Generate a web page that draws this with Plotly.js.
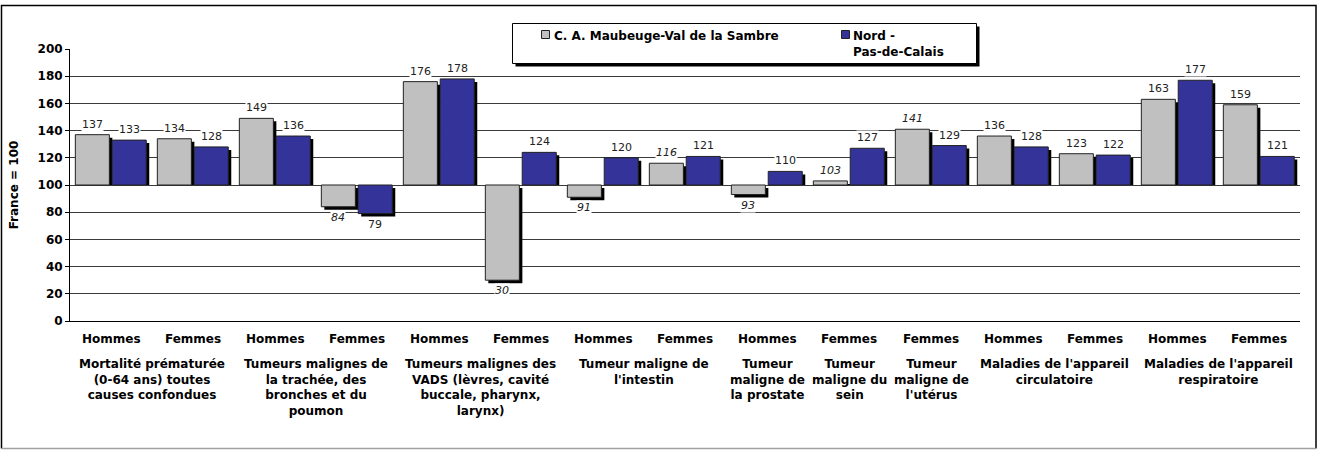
<!DOCTYPE html>
<html>
<head>
<meta charset="utf-8">
<script src="https://cdn.plot.ly/plotly-3.0.1.min.js"></script>
<style>
  html, body { margin: 0; padding: 0; background: #fff; }
  #chart { width: 1319px; height: 450px; }
</style>
</head>
<body>
<div id="chart"></div>
<script>
// ---------- data ----------
const sexes = ['Hommes','Femmes','Hommes','Femmes','Hommes','Femmes','Hommes','Femmes',
               'Hommes','Femmes','Femmes','Hommes','Femmes','Hommes','Femmes'];
const groupLabels = [
  'Mortalité prématurée<br>(0-64 ans) toutes<br>causes confondues',
  'Tumeurs malignes de<br>la trachée, des<br>bronches et du<br>poumon',
  'Tumeurs malignes des<br>VADS (lèvres, cavité<br>buccale, pharynx,<br>larynx)',
  'Tumeur maligne de<br>l\'intestin',
  'Tumeur<br>maligne de<br>la prostate',
  'Tumeur<br>maligne du<br>sein',
  'Tumeur<br>maligne de<br>l\'utérus',
  'Maladies de l\'appareil<br>circulatoire',
  'Maladies de l\'appareil<br>respiratoire'
];
const groupSizes = [2, 2, 2, 2, 1, 1, 1, 2, 2];
const seriesNames = ['C. A. Maubeuge-Val de la Sambre', 'Nord -<br>Pas-de-Calais'];
const maubeuge = [137, 134, 149, 84, 176, 30, 91, 116, 93, 103, 141, 136, 123, 163, 159];
const nordPdc  = [133, 128, 136, 79, 178, 124, 120, 121, 110, 127, 129, 128, 122, 177, 121];
// italic labels (non significant) for the local series
const maubeugeItalic = [false,false,false,true,false,true,true,true,true,true,true,false,false,false,false];
const yTickVals = [0,20,40,60,80,100,120,140,160,180,200];
const baseValue = 100;

// ---------- geometry ----------
const W = 1319, H = 450;
const M = {l: 70, r: 16, t: 49, b: 126};
const PW = W - M.l - M.r, PH = H - M.t - M.b;
const SH = 3; // shadow offset px
const ex = SH / PW, ey = SH / PH;
const pxX = px => (px - M.l) / PW;
const pxY = py => (H - M.b - py) / PH;

const FONT = 'DejaVu Sans, Verdana, sans-serif';
const idx = sexes.map((_, i) => i);
const xRange = [-0.5, sexes.length - 0.5];
const yRange = [0, 200];
const realX = [0, 1 - ex], realY = [ey, 1];
const shadowX = [ex, 1], shadowY = [0, 1 - ey];
const pxPerUnit = PH * (1 - ey) / (yRange[1] - yRange[0]);

const BW = 0.415;
const OFF = [-0.435, 0.015];
const COLORS = ['#C0C0C0', '#333399'];
const series = [maubeuge, nordPdc];

const traces = [];
// shadows (subplot x2y2, shifted 3px right/down; positive bars stop at the base line)
series.forEach((s, k) => {
  const sb = s.map(v => v >= baseValue ? baseValue + SH / pxPerUnit : baseValue);
  traces.push({
    type: 'bar', x: idx, y: s.map((v, i) => v - sb[i]), base: sb,
    offset: OFF[k], width: BW, xaxis: 'x2', yaxis: 'y2',
    marker: {color: '#000000', line: {width: 0}},
    showlegend: false, hoverinfo: 'skip'
  });
});
// real bars (subplot x3y3, on top)
series.forEach((s, k) => {
  traces.push({
    type: 'bar', name: seriesNames[k], x: idx, y: s.map(v => v - baseValue), base: baseValue,
    offset: OFF[k], width: BW, xaxis: 'x3', yaxis: 'y3', showlegend: false,
    marker: {color: COLORS[k], line: {color: '#222222', width: 1}},
    hovertemplate: '%{base}+%{y}<extra></extra>'
  });
});

const annotations = [];
// data labels
series.forEach((s, k) => {
  s.forEach((v, i) => {
    const up = v >= baseValue;
    annotations.push({
      xref: 'x3', yref: 'y3', x: i + OFF[k] + BW / 2, y: v,
      text: String(v), showarrow: false,
      yanchor: up ? 'bottom' : 'top', yshift: up ? 3 : -3,
      bgcolor: '#ffffff', borderpad: 0,
      font: {family: FONT, size: 11, color: '#222222', style: (k === 0 && maubeugeItalic[i]) ? 'italic' : 'normal'}
    });
  });
});
// sex row labels
sexes.forEach((s, i) => {
  annotations.push({
    xref: 'x', yref: 'y', x: i, y: 0, text: s, showarrow: false,
    yanchor: 'middle', yshift: -17.5,
    font: {family: FONT, size: 12, color: '#000', weight: 'bold'}
  });
});
// group labels + dividers
const shapes = [];
let start = 0;
const boundaries = [-0.5];
groupLabels.forEach((g, j) => {
  const n = groupSizes[j];
  const center = start + (n - 1) / 2;
  annotations.push({
    xref: 'x', yref: 'y', x: center, y: 0, text: g, showarrow: false,
    yanchor: 'top', yshift: -34, align: 'center',
    font: {family: FONT, size: 12, color: '#000', weight: 'bold'}
  });
  for (let q = 1; q < n; q++) {
    shapes.push({type: 'line', xref: 'x', yref: 'y', ysizemode: 'pixel', yanchor: 0,
      x0: start + q - 0.5, x1: start + q - 0.5, y0: 0, y1: -26, line: {color: '#000', width: 1}});
  }
  start += n;
  boundaries.push(start - 0.5);
});
boundaries.forEach(b => {
  shapes.push({type: 'line', xref: 'x', yref: 'y', ysizemode: 'pixel', yanchor: 0,
    x0: b, x1: b, y0: 0, y1: -98, line: {color: '#000', width: 1}});
});
// outer frame: black left/top/right, grey bottom edge
const FR = {l: 1.5, r: 1316, t: 5.5, b: 448.5};
shapes.push({type: 'path', xref: 'paper', yref: 'paper', layer: 'below',
  path: 'M ' + pxX(FR.l) + ',' + pxY(FR.b) + ' L ' + pxX(FR.l) + ',' + pxY(FR.t) +
        ' L ' + pxX(FR.r) + ',' + pxY(FR.t) + ' L ' + pxX(FR.r) + ',' + pxY(FR.b),
  line: {color: '#000', width: 1.5}});
shapes.push({type: 'line', xref: 'paper', yref: 'paper', layer: 'below',
  x0: pxX(FR.l), x1: pxX(FR.r), y0: pxY(FR.b), y1: pxY(FR.b),
  line: {color: '#a0a0a0', width: 1.5}});

// ---------- legend box (shadowed, like the original) ----------
const LG = {x0: 512.5, x1: 976.5, y0: 23.5, y1: 63.5};
shapes.push({type: 'rect', xref: 'paper', yref: 'paper', layer: 'above',
  x0: pxX(LG.x0 + 3), x1: pxX(LG.x1 + 3), y0: pxY(LG.y1 + 3), y1: pxY(LG.y0 + 3),
  line: {width: 0}, fillcolor: '#000000'});
shapes.push({type: 'rect', xref: 'paper', yref: 'paper', layer: 'above',
  x0: pxX(LG.x0), x1: pxX(LG.x1), y0: pxY(LG.y1), y1: pxY(LG.y0),
  line: {color: '#000', width: 1}, fillcolor: '#ffffff'});
const legendItemX = [541.5, 841.5];
seriesNames.forEach((nm, k) => {
  shapes.push({type: 'rect', xref: 'paper', yref: 'paper', layer: 'above',
    x0: pxX(legendItemX[k]), x1: pxX(legendItemX[k] + 8), y0: pxY(38.5), y1: pxY(30.5),
    line: {color: '#222', width: 1}, fillcolor: COLORS[k]});
  annotations.push({xref: 'paper', yref: 'paper', x: pxX(legendItemX[k] + 10), y: pxY(26.5),
    xanchor: 'left', yanchor: 'top', align: 'left', showarrow: false, text: nm,
    font: {family: FONT, size: 12, color: '#000', weight: 'bold'}});
});

const halfTicks = [];
for (let i = 0; i <= 2 * sexes.length; i++) halfTicks.push(-0.5 + i * 0.5);

const hidden = {visible: false, fixedrange: true};
const layout = {
  width: W, height: H,
  margin: M,
  paper_bgcolor: '#ffffff', plot_bgcolor: 'rgba(0,0,0,0)',
  font: {family: FONT, size: 12, color: '#000'},
  barmode: 'overlay',
  showlegend: false,
  // frame axes: grid, y labels, bottom line
  xaxis: {domain: realX, range: xRange, anchor: 'y',
    showline: true, linecolor: '#000', linewidth: 1, ticks: '', showticklabels: false,
    showgrid: false, zeroline: false, fixedrange: true},
  yaxis: {domain: realY, range: yRange, anchor: 'x',
    showline: true, linecolor: '#000', linewidth: 1, ticks: 'outside', ticklen: 4, tickcolor: '#000',
    tickvals: yTickVals, showgrid: true, gridcolor: '#3a3a3a', gridwidth: 1, zeroline: false,
    tickfont: {family: FONT, size: 12, color: '#000', weight: 'bold'},
    title: {text: 'France = 100', standoff: 16, font: {family: FONT, size: 12, color: '#000', weight: 'bold'}},
    fixedrange: true},
  // shadow subplot
  xaxis2: Object.assign({domain: shadowX, range: xRange, anchor: 'y2'}, hidden),
  yaxis2: Object.assign({domain: shadowY, range: yRange, anchor: 'x2'}, hidden),
  // bars subplot
  xaxis3: Object.assign({domain: realX, range: xRange, anchor: 'y3'}, hidden),
  yaxis3: Object.assign({domain: realY, range: yRange, anchor: 'x3'}, hidden),
  // category axis crossing at the base value
  xaxis4: {range: xRange, overlaying: 'x', anchor: 'free',
    position: realY[0] + (realY[1] - realY[0]) * (baseValue - yRange[0]) / (yRange[1] - yRange[0]),
    showline: true, linecolor: '#000', linewidth: 1, ticks: 'outside', ticklen: 3, tickcolor: '#000',
    tickvals: halfTicks, showticklabels: false, showgrid: false, zeroline: false, fixedrange: true},
  annotations: annotations,
  shapes: shapes
};

Plotly.newPlot('chart', traces, layout, {displayModeBar: false, staticPlot: true});
</script>
</body>
</html>
